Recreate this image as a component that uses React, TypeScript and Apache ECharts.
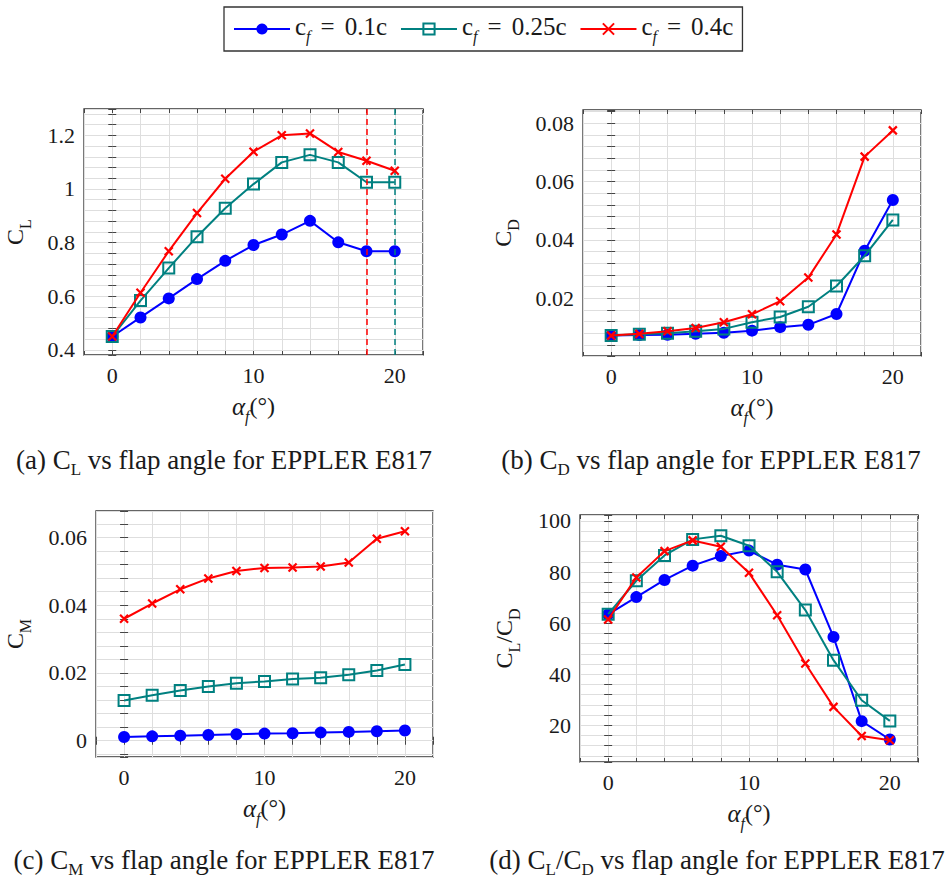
import React, { useEffect, useRef } from "react";
import * as echarts from "echarts";

// Flap deflection angles (degrees)
const flapAngles = [0, 2, 4, 6, 8, 10, 12, 14, 16, 18, 20];
const seriesNames = ["c_f=0.1c", "c_f=0.25c", "c_f=0.4c"];

// Lift coefficient C_L
const liftCf10 = [0.45, 0.521, 0.592, 0.664, 0.732, 0.791, 0.83, 0.881, 0.801, 0.768, 0.768];
const liftCf25 = [0.45, 0.584, 0.705, 0.822, 0.928, 1.018, 1.099, 1.127, 1.099, 1.025, 1.025];
const liftCf40 = [0.45, 0.613, 0.768, 0.91, 1.038, 1.139, 1.2, 1.207, 1.138, 1.105, 1.068];

// Drag coefficient C_D
const dragCf10 = [0.0072, 0.0074, 0.0075, 0.0078, 0.0082, 0.0089, 0.0101, 0.0109, 0.0146, 0.0363, 0.0537];
const dragCf25 = [0.0072, 0.0077, 0.008, 0.0087, 0.0095, 0.0118, 0.0136, 0.0171, 0.0242, 0.0346, 0.0469];
const dragCf40 = [0.0072, 0.0078, 0.0087, 0.0098, 0.0118, 0.0145, 0.019, 0.0271, 0.0419, 0.0686, 0.0776];

// Moment coefficient C_M
const momentCf10 = [0.0011, 0.0013, 0.0015, 0.0017, 0.0019, 0.0021, 0.0022, 0.0024, 0.0026, 0.0028, 0.003];
const momentCf25 = [0.0119, 0.0134, 0.0148, 0.016, 0.017, 0.0175, 0.0182, 0.0186, 0.0195, 0.0207, 0.0225];
const momentCf40 = [0.036, 0.0405, 0.0447, 0.0479, 0.0501, 0.051, 0.0511, 0.0514, 0.0526, 0.0596, 0.0618];

// Lift-to-drag ratio C_L/C_D
const ratioCf10 = [63.4, 70.2, 76.9, 82.5, 86.3, 88.4, 82.9, 81.0, 54.6, 21.6, 14.4];
const ratioCf25 = [63.5, 76.6, 86.5, 92.8, 94.2, 90.3, 80.1, 65.1, 45.5, 29.8, 21.7];
const ratioCf40 = [61.4, 77.9, 88.2, 92.4, 89.9, 79.7, 63.1, 44.2, 27.2, 15.8, 14.1];

// Vertical reference lines in the lift plot (stall flap angles)
const stallAngleCf40 = 18;
const stallAngleCf25 = 20;

const FONT = "Liberation Serif, Times New Roman, serif";
const BLUE = "#0000ff";
const TEAL = "#008080";
const RED = "#ff0000";
const TEXT = "#1a1a1a";
const CROSS = "path://M0,0L10,10M0,10L10,0";

const tok = (fontSize: number, lineHeight: number, extra: any = {}) => ({
  fontFamily: FONT,
  fontSize,
  lineHeight,
  color: TEXT,
  ...extra,
});

// Rich text styles: main text aligned to the top of the line box, subscripts to its bottom
const rich = {
  t: tok(24, 30, { verticalAlign: "top" }),
  s: tok(16, 16, { verticalAlign: "bottom" }),
  i: tok(25, 30, { verticalAlign: "top", fontStyle: "italic" }),
  si: tok(16, 16, { verticalAlign: "bottom", fontStyle: "italic" }),
  lt: tok(25, 30, { verticalAlign: "top" }),
  lsi: tok(16, 16, { verticalAlign: "bottom", fontStyle: "italic" }),
  le: tok(25, 30, { verticalAlign: "top", padding: [0, 10, 0, 10] }),
  ct: tok(27, 32, { verticalAlign: "top" }),
  cs: tok(17, 17, { verticalAlign: "bottom" }),
};

const seriesStyles = [
  { color: BLUE, symbol: "circle", symbolSize: 12, itemStyle: { color: BLUE } },
  { color: TEAL, symbol: "rect", symbolSize: 11, itemStyle: { color: "rgba(255,255,255,0)", borderColor: TEAL, borderWidth: 2 } },
  { color: RED, symbol: CROSS, symbolSize: 8, itemStyle: { color: RED, borderColor: RED, borderWidth: 2.2 } },
];

const panels = [
  {
    grid: { left: 84, top: 109, width: 339, height: 246 },
    y: { min: 0.381, max: 1.298, step: 0.04, major: 0.2 },
    yName: "{t|C}{s|L}",
    yGap: 51,
    data: [liftCf10, liftCf25, liftCf40],
    caption: "{ct|(a) C}{cs|L}{ct| vs flap angle for EPPLER E817}",
    captionPos: [224, 462],
    marks: [null, stallAngleCf25, stallAngleCf40],
  },
  {
    grid: { left: 583, top: 110, width: 338, height: 246 },
    y: { min: 0.0002, max: 0.0846, step: 0.004, major: 0.02 },
    yName: "{t|C}{s|D}",
    yGap: 62,
    data: [dragCf10, dragCf25, dragCf40],
    caption: "{ct|(b) C}{cs|D}{ct| vs flap angle for EPPLER E817}",
    captionPos: [711, 462],
    marks: [null, null, null],
  },
  {
    grid: { left: 96, top: 511, width: 337, height: 246 },
    y: { min: -0.0048, max: 0.0678, step: 0.004, major: 0.02 },
    yName: "{t|C}{s|M}",
    yGap: 63,
    data: [momentCf10, momentCf25, momentCf40],
    caption: "{ct|(c) C}{cs|M}{ct| vs flap angle for EPPLER E817}",
    captionPos: [224, 862],
    marks: [null, null, null],
  },
  {
    grid: { left: 580, top: 515, width: 338, height: 247 },
    y: { min: 5.6, max: 102.35, step: 4, major: 20 },
    yName: "{t|C}{s|L}{t|/C}{s|D}",
    yGap: 58,
    data: [ratioCf10, ratioCf25, ratioCf40],
    caption: "{ct|(d) C}{cs|L}{ct|/C}{cs|D}{ct| vs flap angle for EPPLER E817}",
    captionPos: [717, 862],
    marks: [null, null, null],
  },
];

const isMultiple = (v: number, step: number) => Math.abs(v / step - Math.round(v / step)) < 1e-6;
const fmt = (v: number) => String(parseFloat(v.toFixed(6)));

const tickStyle = { inside: true, length: 4, lineStyle: { color: "#444", width: 1 } };
const splitStyle = { show: true, lineStyle: { color: "#dedede", width: 1 } };
const labelFont = { fontFamily: FONT, fontSize: 22, color: TEXT, margin: 9 };

function buildOption() {
  const grids: any[] = [];
  const xAxes: any[] = [];
  const yAxes: any[] = [];
  const series: any[] = [];
  const graphics: any[] = [];

  panels.forEach((p, gi) => {
    grids.push({ ...p.grid, show: true, borderColor: "#333", borderWidth: 1.3, backgroundColor: "transparent" });

    const xBase = {
      type: "value",
      gridIndex: gi,
      min: -2,
      max: 22,
      minInterval: 2,
      maxInterval: 2,
      axisLine: { show: false },
      axisTick: tickStyle,
    };
    const xMain = xAxes.length;
    xAxes.push({
      ...xBase,
      position: "bottom",
      splitLine: splitStyle,
      axisLabel: {
        ...labelFont,
        formatter: (v: number) => (isMultiple(v, 10) ? fmt(v) : ""),
      },
      name: "{i|α}{si|f}{t|(°)}",
      nameLocation: "middle",
      nameGap: 39,
      nameTextStyle: { rich },
    });
    xAxes.push({ ...xBase, position: "top", splitLine: { show: false }, axisLabel: { show: false } });

    const yBase = {
      type: "value",
      gridIndex: gi,
      min: p.y.min,
      max: p.y.max,
      minInterval: p.y.step,
      maxInterval: p.y.step,
      axisLine: { show: false },
      axisTick: tickStyle,
    };
    const yMain = yAxes.length;
    yAxes.push({
      ...yBase,
      position: "left",
      splitLine: splitStyle,
      axisLabel: {
        ...labelFont,
        formatter: (v: number) => (isMultiple(v, p.y.major) ? fmt(v) : ""),
      },
      name: p.yName,
      nameLocation: "middle",
      nameRotate: 90,
      nameGap: p.yGap,
      nameTextStyle: { rich },
    });
    yAxes.push({ ...yBase, position: "right", splitLine: { show: false }, axisLabel: { show: false } });

    p.data.forEach((vals, si) => {
      const st = seriesStyles[si];
      const mark = p.marks[si];
      series.push({
        type: "line",
        name: seriesNames[si],
        xAxisIndex: xMain,
        yAxisIndex: yMain,
        data: flapAngles.map((a, k) => [a, vals[k]]),
        color: st.color,
        symbol: st.symbol,
        symbolSize: st.symbolSize,
        showAllSymbol: true,
        lineStyle: { color: st.color, width: 2 },
        itemStyle: st.itemStyle,
        z: 3 + si,
        markLine:
          mark != null
            ? {
                silent: true,
                symbol: ["none", "none"],
                label: { show: false },
                lineStyle: { color: st.color, type: [6, 4], width: 1.5 },
                data: [{ xAxis: mark }],
              }
            : undefined,
      });
    });

    graphics.push({
      type: "text",
      x: p.captionPos[0],
      y: p.captionPos[1],
      style: {
        text: p.caption,
        rich,
        fill: TEXT,
        align: "center",
        verticalAlign: "middle",
      },
    });
  });

  return {
    animation: false,
    backgroundColor: "#ffffff",
    grid: grids,
    xAxis: xAxes,
    yAxis: yAxes,
    series,
    graphic: graphics,
    legend: {
      data: seriesNames,
      left: 224,
      top: 7,
      orient: "horizontal",
      itemWidth: 56,
      itemHeight: 14,
      itemGap: 13,
      padding: [7, 9, 7, 9],
      borderColor: "#333",
      borderWidth: 1.3,
      selectedMode: false,
      textStyle: { rich },
      formatter: (name: string) => `{lt|c}{lsi|f}{le|=}{lt|${name.split("=")[1]}}`,
    },
  };
}

export default function App() {
  const ref = useRef<HTMLDivElement>(null);
  useEffect(() => {
    if (!ref.current) return;
    const chart = echarts.init(ref.current, undefined, { renderer: "svg" });
    chart.setOption(buildOption() as any);
    return () => chart.dispose();
  }, []);
  return (
    <div
      ref={ref}
      style={{ position: "absolute", left: 0, top: 0, width: 950, height: 883, background: "#fff" }}
    />
  );
}
